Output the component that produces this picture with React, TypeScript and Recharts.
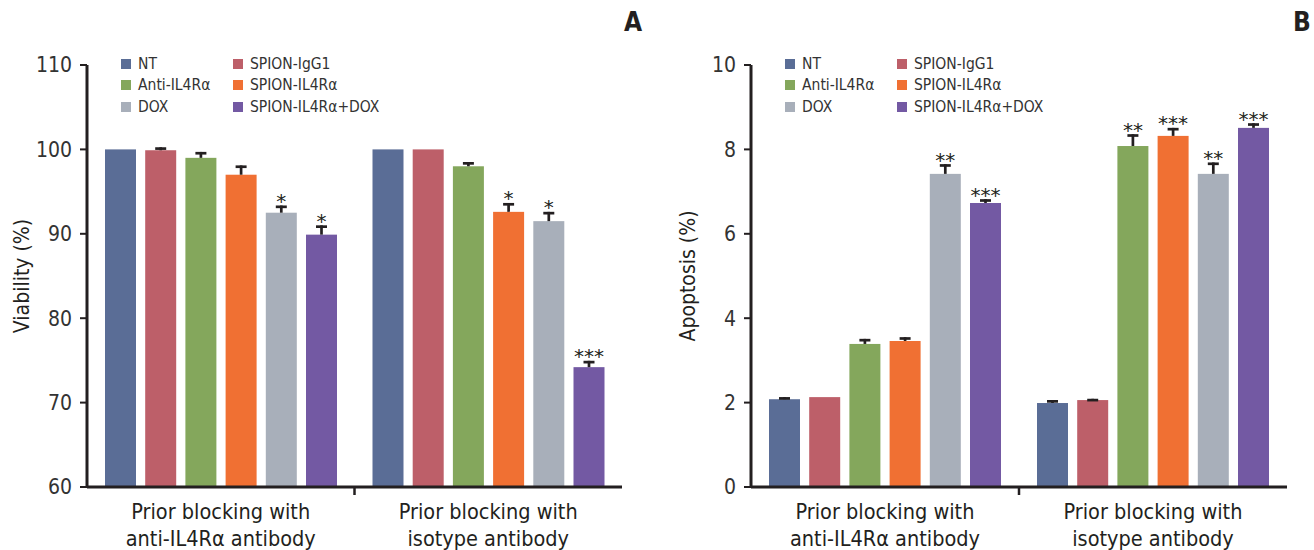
import React from 'react';
import { BarChart, Bar, XAxis, YAxis, Legend } from 'recharts';

const FONT = '"Liberation Sans Narrow", "Arial Narrow", "DejaVu Sans Condensed", "Liberation Sans", sans-serif';
const INK = '#231f20';
const TEXT = '#333';

const categories = ['Prior blocking with\nanti-IL4Rα antibody', 'Prior blocking with\nisotype antibody'];
const seriesNames = ['NT', 'SPION-IgG1', 'Anti-IL4Rα', 'SPION-IL4Rα', 'DOX', 'SPION-IL4Rα+DOX'];
const seriesColors = ['#5a6d96', '#bd5f69', '#84a75c', '#f07033', '#a8afba', '#7359a3'];

// Panel A - viability (%), [anti-IL4Rα blocking, isotype blocking]
const viabilityValues = [
  [100.0, 100.0],
  [99.9, 100.0],
  [99.0, 98.0],
  [97.0, 92.6],
  [92.5, 91.5],
  [89.9, 74.2],
];
const viabilityErrors = [
  [0, 0],
  [0.35, 0],
  [0.7, 0.5],
  [1.1, 1.05],
  [0.85, 1.1],
  [1.1, 0.75],
];
const viabilityMarks = [
  ['', ''],
  ['', ''],
  ['', ''],
  ['', '*'],
  ['*', '*'],
  ['*', '***'],
];
const viabilityTicks = [60, 70, 80, 90, 100, 110];

// Panel B - apoptosis (%)
const apoptosisValues = [
  [2.08, 1.99],
  [2.13, 2.06],
  [3.39, 8.08],
  [3.46, 8.32],
  [7.42, 7.42],
  [6.73, 8.51],
];
const apoptosisErrors = [
  [0.05, 0.07],
  [0, 0.03],
  [0.12, 0.28],
  [0.09, 0.19],
  [0.23, 0.27],
  [0.09, 0.11],
];
const apoptosisMarks = [
  ['', ''],
  ['', ''],
  ['', '**'],
  ['', '***'],
  ['**', '**'],
  ['***', '***'],
];
const apoptosisTicks = [0, 2, 4, 6, 8, 10];

function buildRows(values: number[][], errors: number[][], marks: string[][]) {
  return categories.map((category, c) => {
    const row: Record<string, any> = { category };
    seriesNames.forEach((_, s) => {
      row[`v${s}`] = values[s][c];
      row[`e${s}`] = errors[s][c];
      row[`m${s}`] = marks[s][c];
    });
    return row;
  });
}

const viabilityRows = buildRows(viabilityValues, viabilityErrors, viabilityMarks);
const apoptosisRows = buildRows(apoptosisValues, apoptosisErrors, apoptosisMarks);

// bar + upper half of the error bar + significance stars
const barShape = (s: number, base: number) => (props: any) => {
  const { x, y, width, height, fill, payload } = props;
  const value = payload[`v${s}`];
  const err = payload[`e${s}`];
  const mark = payload[`m${s}`];
  const perUnit = value > base ? height / (value - base) : 0;
  const top = y - err * perUnit;
  const cx = x + width / 2;
  return (
    <g>
      <rect x={x} y={y} width={width} height={height} fill={fill} />
      {err > 0 && <line x1={cx} x2={cx} y1={y} y2={top} stroke={INK} strokeWidth={2.7} />}
      {err > 0 && (
        <line x1={cx - 5.5} x2={cx + 5.5} y1={top + 1.3} y2={top + 1.3} stroke={INK} strokeWidth={2.7} />
      )}
      {mark && (
        <text x={cx} y={top + 2.5} textAnchor="middle" fontSize={20} fontFamily="DejaVu Sans" fill={INK}>
          {mark}
        </text>
      )}
    </g>
  );
};

const CategoryTick = (props: any) => {
  const { x, y, payload, index } = props;
  const lines = String(payload.value).split('\n');
  const half = payload.offset ?? 0;
  return (
    <g>
      {index === 0 && half > 0 && (
        <line x1={x + half} x2={x + half} y1={y} y2={y + 8} stroke={INK} strokeWidth={2.5} />
      )}
      <text x={x} y={y} textAnchor="middle" fontSize={21.5} fontFamily={FONT} fill={INK}>
        <tspan x={x} dy={32}>{lines[0]}</tspan>
        <tspan x={x} dy={27}>{lines[1]}</tspan>
      </text>
    </g>
  );
};

// legend in the series order, two columns
const LegendGrid = () => (
  <div
    style={{
      display: 'grid',
      gridTemplateColumns: '112px auto',
      fontFamily: FONT,
      fontSize: 15.5,
      color: TEXT,
    }}
  >
    {seriesNames.map((name, s) => (
      <div key={name} style={{ display: 'flex', alignItems: 'center', height: 21.5, whiteSpace: 'nowrap' }}>
        <span style={{ width: 10, height: 10, background: seriesColors[s], marginRight: 7, display: 'inline-block' }} />
        {name}
      </div>
    ))}
  </div>
);

interface PanelProps {
  rows: Record<string, any>[];
  ticks: number[];
  yLabel: string;
  marginLeft: number;
  marginRight: number;
  labelOffset: number;
}

const Panel: React.FC<PanelProps> = ({ rows, ticks, yLabel, marginLeft, marginRight, labelOffset }) => {
  const base = ticks[0];
  return (
    <BarChart
      width={657}
      height={550}
      data={rows}
      margin={{ top: 65, right: marginRight, bottom: 3, left: marginLeft }}
      barGap={9.2}
    >
      <XAxis
        xAxisId="cat"
        dataKey="category"
        height={60}
        interval={0}
        tickLine={false}
        tickSize={0}
        tickMargin={0}
        axisLine={{ stroke: INK, strokeWidth: 3 }}
        tick={CategoryTick}
      />
      <YAxis
        width={67}
        domain={[ticks[0], ticks[ticks.length - 1]]}
        ticks={ticks}
        interval={0}
        tickSize={7}
        tickMargin={8}
        axisLine={{ stroke: INK, strokeWidth: 3 }}
        tickLine={{ stroke: INK, strokeWidth: 2 }}
        tick={{ fontSize: 21, fill: TEXT, fontFamily: FONT }}
        label={{
          value: yLabel,
          angle: -90,
          position: 'insideLeft',
          offset: labelOffset,
          style: { textAnchor: 'middle', fontSize: 21, fill: INK, fontFamily: FONT },
        }}
      />
      <Legend
        layout="horizontal"
        verticalAlign="middle"
        align="center"
        content={LegendGrid}
        wrapperStyle={{ top: 53, left: marginLeft + 67 + 34, width: 'auto', height: 'auto' }}
      />
      {seriesNames.map((name, s) => (
        <Bar
          key={name}
          xAxisId="cat"
          dataKey={`v${s}`}
          name={name}
          fill={seriesColors[s]}
          barSize={31}
          shape={barShape(s, base)}
          isAnimationActive={false}
        />
      ))}
    </BarChart>
  );
};

const panelLetter: React.CSSProperties = {
  position: 'absolute',
  top: 9,
  fontFamily: FONT,
  fontWeight: 'bold',
  fontSize: 26,
  lineHeight: 1,
  color: INK,
};

export default function App() {
  return (
    <div style={{ position: 'absolute', left: 0, top: 0, width: 1314, height: 550, background: '#fff', overflow: 'hidden' }}>
      <div style={{ position: 'absolute', left: 0, top: 0 }}>
        <Panel rows={viabilityRows} ticks={viabilityTicks} yLabel="Viability (%)" marginLeft={20} marginRight={35} labelOffset={2} />
      </div>
      <div style={{ position: 'absolute', left: 657, top: 0 }}>
        <Panel rows={apoptosisRows} ticks={apoptosisTicks} yLabel="Apoptosis (%)" marginLeft={27} marginRight={27} labelOffset={4} />
      </div>
      <div style={{ ...panelLetter, left: 624 }}>A</div>
      <div style={{ ...panelLetter, left: 1293 }}>B</div>
    </div>
  );
}
